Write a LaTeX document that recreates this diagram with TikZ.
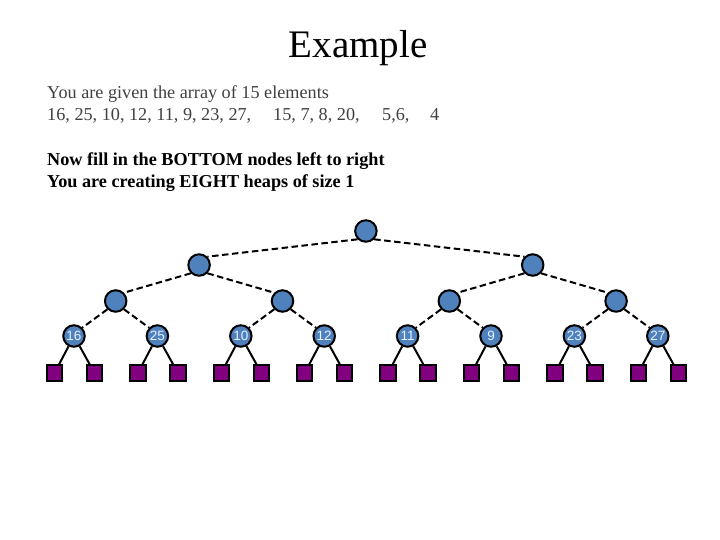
\documentclass[tikz,border=0pt]{standalone}
\usepackage{fontspec}
\setmainfont{Liberation Serif}
\setsansfont{Liberation Sans}
\usepackage{tikz}
\usetikzlibrary{positioning}
\definecolor{heapblue}{RGB}{79,129,189}
\definecolor{heappurple}{RGB}{128,0,128}
\definecolor{textgray}{RGB}{64,64,64}
\definecolor{keywhite}{RGB}{230,242,255}

\begin{document}
\begin{tikzpicture}[x=1pt, y=-1pt,
    heapnode/.style={circle, draw=black, line width=2pt, fill=heapblue,
        minimum size=21.5pt, inner sep=0pt, text=keywhite, font=\sffamily\fontsize{13.5}{13.5}\selectfont},
    leafbox/.style={rectangle, draw=black, line width=2pt, fill=heappurple,
        minimum size=15.5pt, inner sep=0pt},
    dashedge/.style={line width=2pt, dash pattern=on 6.5pt off 3.5pt},
    solidedge/.style={line width=2pt},
    bodytext/.style={anchor=base west, inner sep=0pt, text=textgray,
        font=\fontsize{18.2}{18.2}\selectfont}]
    \useasboundingbox (0,0) rectangle (720,540);
    \node(T) [anchor=base, inner sep=0pt, font=\fontsize{39}{39}\selectfont] at (358,58) {Example};
    \node(G1) [bodytext] at (47,99) {You are given the array of 15 elements};
    \node(G2) [bodytext] at (47,121) {16, 25, 10, 12, 11, 9, 23, 27,};
    \node(G3) [bodytext] at (273,121) {15, 7, 8, 20,};
    \node(G4) [bodytext] at (382,121) {5,6,};
    \node(G5) [bodytext] at (430,121) {4};
    \node(N1) [bodytext, text=black, font=\bfseries\fontsize{18.2}{18.2}\selectfont] at (47,166) {Now fill in the BOTTOM nodes left to right};
    \node(N2) [bodytext, text=black, font=\bfseries\fontsize{18.2}{18.2}\selectfont] at (47,188) {You are creating EIGHT heaps of size 1};

    \node(R) [heapnode] at (365.9,231) {};
    \node(A) [heapnode] at (199.1,265) {};
    \node(B) [heapnode] at (532.7,265) {};
    \node(AA) [heapnode] at (115.7,301) {};
    \node(AB) [heapnode] at (282.5,301) {};
    \node(BA) [heapnode] at (449.3,301) {};
    \node(BB) [heapnode] at (616.1,301) {};

    \foreach \v [count=\i] in {16,25,10,12,11,9,23,27} {
        \node(H\i) [heapnode] at ({74+83.4*(\i-1)},336) {\v};
        \node(Sl\i) [leafbox] at ({54.5+83.4*(\i-1)},373) {};
        \node(Sr\i) [leafbox] at ({94.5+83.4*(\i-1)},373) {};
        \draw[solidedge](H\i) -- (Sl\i);
        \draw[solidedge](H\i) -- (Sr\i);
    }

    \draw[dashedge](R.south west) -- (A.north east);
    \draw[dashedge](R.south east) -- (B.north west);
    \draw[dashedge](A.south west) -- (AA.north east);
    \draw[dashedge](A.south east) -- (AB.north west);
    \draw[dashedge](B.south west) -- (BA.north east);
    \draw[dashedge](B.south east) -- (BB.north west);
    \draw[dashedge](AA.south west) -- (H1.north east);
    \draw[dashedge](AA.south east) -- (H2.north west);
    \draw[dashedge](AB.south west) -- (H3.north east);
    \draw[dashedge](AB.south east) -- (H4.north west);
    \draw[dashedge](BA.south west) -- (H5.north east);
    \draw[dashedge](BA.south east) -- (H6.north west);
    \draw[dashedge](BB.south west) -- (H7.north east);
    \draw[dashedge](BB.south east) -- (H8.north west);
\end{tikzpicture}
\end{document}
